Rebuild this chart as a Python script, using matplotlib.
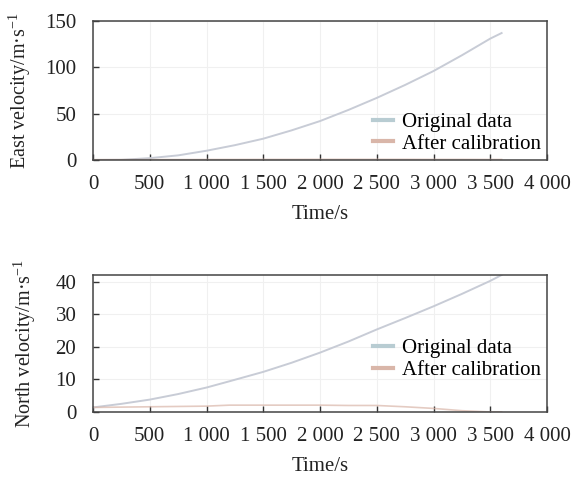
import matplotlib
matplotlib.use("Agg")
import matplotlib.pyplot as plt
from matplotlib.lines import Line2D

plt.rcParams['font.family'] = ['Liberation Serif', 'DejaVu Serif']
plt.rcParams['mathtext.fontset'] = 'custom'
plt.rcParams['mathtext.rm'] = 'Liberation Serif'
plt.rcParams['mathtext.it'] = 'Liberation Serif:italic'

# East velocity
east_t = [0, 250, 500, 750, 1000, 1250, 1500, 1750, 2000, 2250, 2500, 2750, 3000, 3250, 3500, 3600]
east_orig = [0, 0.2, 2, 5, 10, 16, 23, 32, 42, 54, 67, 81, 96, 113, 131, 137]
east_cal = [0.4, 0.4, 0.5, 0.5, 0.6, 0.6, 0.7, 0.7, 0.8, 0.8, 0.8, 0.8, 0.7, 0.7, 0.6, 0.6]

# North velocity
north_t = [0, 250, 500, 750, 1000, 1200, 1500, 1750, 2000, 2250, 2500, 2750, 3000, 3250, 3500, 3600]
north_orig = [1.4, 2.5, 3.8, 5.5, 7.5, 9.4, 12.3, 15.1, 18.2, 21.6, 25.3, 28.8, 32.4, 36.2, 40.2, 42]
north_cal = [1.4, 1.5, 1.6, 1.7, 1.8, 2.1, 2.1, 2.1, 2.1, 2.0, 2.0, 1.6, 1.1, 0.4, 0.0, 0.0]

xticks = [0, 500, 1000, 1500, 2000, 2500, 3000, 3500, 4000]
xticklabels = ['0', '500', '1 000', '1 500', '2 000', '2 500', '3 000', '3 500', '4 000']
labels = ['Original data', 'After calibration']

c_orig = '#b8ccd2'
c_line_orig = '#c8ccd6'
c_cal = '#d9b6a9'

fig = plt.figure(figsize=(5.72, 4.84), dpi=100)
ax1 = fig.add_axes([93/572, 1-160/484, 454/572, 139/484])
ax2 = fig.add_axes([93/572, 1-412/484, 454/572, 137/484])

fs = 15

def style(ax, ylabel, ylim, yticks, ylab_x):
    ax.set_xlim(0, 4000)
    ax.set_ylim(*ylim)
    ax.set_xticks(xticks)
    ax.set_xticklabels(xticklabels)
    ax.set_yticks(yticks)
    ax.tick_params(direction='in', length=4, width=1, colors='#333333',
                   labelcolor='#222222', labelsize=fs, top=False, right=False)
    ax.tick_params(axis='x', pad=11)
    ax.tick_params(axis='y', pad=12)
    ax.grid(True, color='#f0f0f0', linewidth=0.8)
    ax.set_axisbelow(True)
    for s in ax.spines.values():
        s.set_color('#444444')
        s.set_linewidth(1.1)
    ax.set_xlabel('Time/s', fontsize=fs, color='#222222', labelpad=8)
    ax.set_ylabel(ylabel, fontsize=14.5, color='#222222')
    ax.yaxis.set_label_coords(ylab_x, 0.5)

ax1.plot(east_t, east_orig, color=c_line_orig, lw=1.4)
ax1.plot(east_t, east_cal, color=c_cal, lw=1.2, alpha=0.6)
style(ax1, 'East velocity/m·s$^{-1}$', (0, 150), [0, 50, 100, 150], -0.132)

ax2.plot(north_t, north_orig, color=c_line_orig, lw=1.4)
ax2.plot(north_t, north_cal, color=c_cal, lw=1.2, alpha=0.7)
style(ax2, 'North velocity/m·s$^{-1}$', (0, 42), [0, 10, 20, 30, 40], -0.122)

handles = [Line2D([], [], color=c_orig, lw=3), Line2D([], [], color=c_cal, lw=3)]
for ax, anchor in [(ax1, (1.0, 0.0)), (ax2, (1.0, 0.187))]:
    ax.legend(handles, labels, loc='lower right',
              bbox_to_anchor=anchor, frameon=False, fontsize=fs, handlelength=1.0,
              handletextpad=0.4, labelspacing=0.1, borderpad=0.15, borderaxespad=0.15)

fig.savefig('out.png', dpi=100)
